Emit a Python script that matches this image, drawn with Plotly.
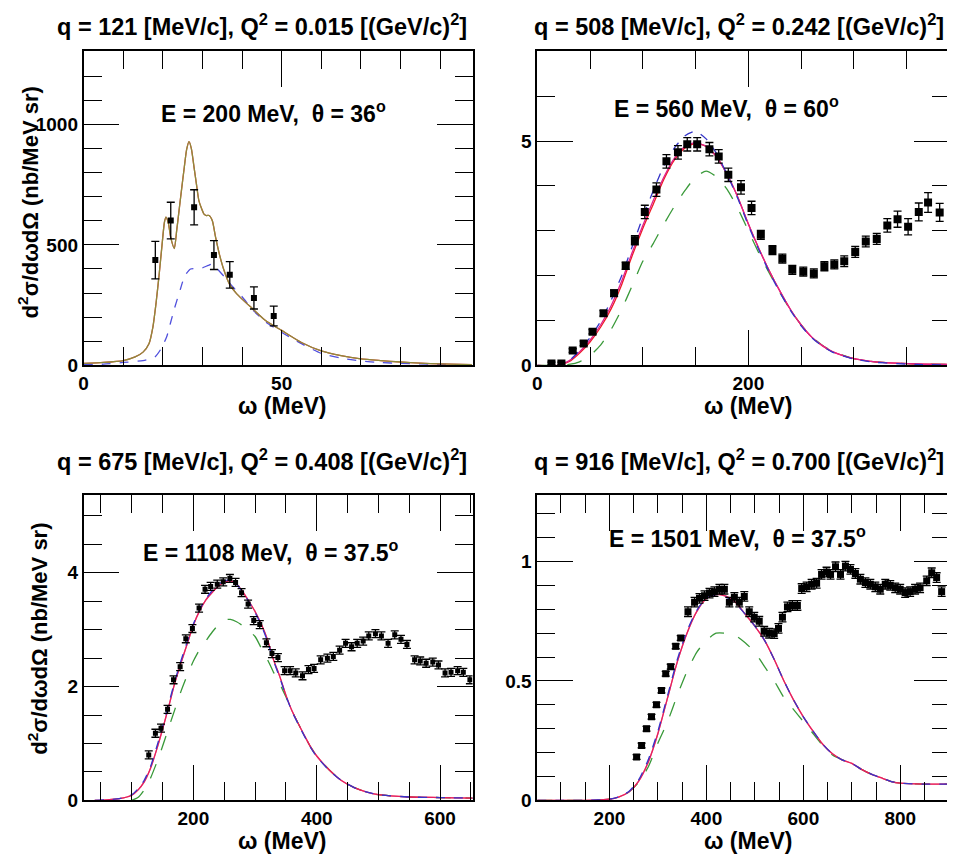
import plotly.graph_objects as go

# ---------------- DATA ----------------
p1_data_x = [18.1, 22.0, 27.9, 32.9, 36.9, 43.0, 48.0]
p1_data_y = [437, 601, 656, 458, 376, 280, 205]
p1_data_err = [78, 76, 73, 60, 55, 46, 41]
p1_curve_x = [0, 5, 10, 13, 15, 16.5, 17.5, 18.3, 19.1, 19.8, 20.4, 20.8, 21.4, 22.0, 22.9, 23.5,
              24.1, 24.8, 25.4, 26.0, 26.6, 27.2, 27.9, 28.5, 29.1, 29.8, 30.4, 31.0, 31.7, 32.5,
              33.3, 34.3, 35.4, 36.9, 38.5, 40, 43, 46, 50, 55, 60, 65, 70, 75, 80, 85, 90, 98]
p1_solid = [8, 12, 20, 35, 55, 90, 160, 260, 382, 500, 594, 615, 590, 530, 485, 560,
            643, 740, 820, 895, 929, 900, 820, 750, 684, 650, 628, 622, 622, 600,
            533, 460, 397, 335, 300, 275, 230, 185, 145, 95, 60, 40, 27, 20, 14, 9, 6, 3]
p1_dash_x = [0, 5, 10, 15, 18, 19.6, 21, 22, 23, 24.5, 25.5, 27, 28.5, 30, 31.5, 32.5, 33.5,
             35.4, 38, 40, 43, 46, 49.7, 55, 60, 65, 70, 75, 80, 90, 98]
p1_dash = [3, 5, 12, 20, 35, 70, 120, 180, 240, 320, 370, 400, 402, 405, 415, 420, 405,
           370, 320, 285, 225, 180, 140, 90, 50, 30, 18, 12, 8, 4, 2]

p2_data_x = [13.5, 22.9, 33.6, 44.0, 52.4, 62.8, 72.8, 83.8, 92.5, 101.9, 112.9, 122.4, 133.3,
             142.1, 151.5, 163.1, 171.9, 181.0, 193.0, 203.0, 211.8, 222.8, 232.2, 241.6, 252.0,
             262.0, 272.0, 281.4, 290.8, 301.2, 311.2, 321.6, 331.6, 341.3, 351.3, 361.4, 370.2, 381.2]
p2_data_y = [0.04, 0.04, 0.33, 0.49, 0.75, 1.16, 1.61, 2.22, 2.79, 3.42, 3.92, 4.55, 4.75,
             4.93, 4.93, 4.82, 4.66, 4.25, 3.97, 3.51, 2.91, 2.57, 2.38, 2.13, 2.09,
             2.05, 2.21, 2.25, 2.32, 2.53, 2.76, 2.82, 3.12, 3.26, 3.09, 3.42, 3.63, 3.41]
p2_data_err = [0.03, 0.03, 0.04, 0.05, 0.05, 0.06, 0.07, 0.08, 0.1, 0.15, 0.15, 0.15, 0.15,
               0.15, 0.15, 0.15, 0.15, 0.15, 0.15, 0.15, 0.1, 0.1, 0.1, 0.1, 0.1,
               0.1, 0.1, 0.1, 0.12, 0.12, 0.12, 0.12, 0.15, 0.18, 0.18, 0.2, 0.22, 0.2]
p2_curve_x = [0, 20, 30, 40, 50, 60, 70, 80, 90, 100, 110, 120, 130, 140, 150, 160, 170, 180,
              190, 200, 210, 220, 230, 240, 250, 260, 270, 280, 300, 320, 340, 360, 391]
p2_red = [0, 0, 0.08, 0.27, 0.52, 0.85, 1.26, 1.8, 2.45, 3.05, 3.6, 4.15, 4.58, 4.85, 4.95, 4.88,
          4.65, 4.25, 3.75, 3.15, 2.6, 2.1, 1.65, 1.24, 0.9, 0.63, 0.44, 0.3, 0.15, 0.08, 0.05, 0.03, 0.02]
p2_magenta = [0, 0, 0.1, 0.3, 0.56, 0.9, 1.33, 1.88, 2.52, 3.12, 3.68, 4.2, 4.62, 4.88, 4.97, 4.88,
              4.65, 4.25, 3.75, 3.15, 2.6, 2.1, 1.65, 1.24, 0.9, 0.63, 0.44, 0.3, 0.15, 0.08, 0.05, 0.03, 0.02]
p2_blue = [0, 0, 0.1, 0.33, 0.62, 0.98, 1.45, 2.0, 2.65, 3.3, 3.9, 4.45, 4.85, 5.12, 5.22, 5.05,
           4.72, 4.25, 3.72, 3.12, 2.57, 2.07, 1.62, 1.22, 0.88, 0.62, 0.43, 0.29, 0.14, 0.07, 0.04, 0.02, 0.01]
p2_green = [0, 0, 0.02, 0.08, 0.22, 0.45, 0.8, 1.25, 1.78, 2.32, 2.72, 3.15, 3.55, 3.9, 4.2, 4.33,
            4.2, 3.92, 3.5, 3.0, 2.5, 2.05, 1.62, 1.23, 0.9, 0.64, 0.45, 0.31, 0.15, 0.08, 0.05, 0.03, 0.02]

p3_data_x = [127.6, 138.4, 147.5, 158.1, 167.8, 178.5, 187.7, 198.4, 209.2, 218.9, 228.0, 238.7,
             248.4, 259.2, 268.4, 278.1, 288.7, 297.9, 307.6, 318.4, 327.4, 337.1, 347.9, 356.8,
             366.0, 376.9, 386.6, 395.7, 406.4, 417.3, 426.9, 437.1, 446.8, 456.5, 465.6, 475.3,
             484.4, 495.2, 504.9, 515.7, 526.5, 536.6, 546.3, 558.7, 567.8, 577.4, 588.2, 597.4,
             608.1, 617.8, 628.5, 637.7, 648.4]
p3_data_y = [0.80, 1.18, 1.27, 1.60, 2.12, 2.35, 2.84, 3.02, 3.38, 3.71, 3.76, 3.80,
             3.84, 3.90, 3.83, 3.65, 3.45, 3.16, 3.09, 2.77, 2.58, 2.51, 2.28, 2.28,
             2.24, 2.19, 2.30, 2.32, 2.47, 2.50, 2.53, 2.64, 2.76, 2.70, 2.76, 2.80,
             2.89, 2.93, 2.89, 2.76, 2.91, 2.83, 2.74, 2.47, 2.45, 2.41, 2.43, 2.38,
             2.24, 2.25, 2.28, 2.25, 2.12]
p3_data_err = [0.07] * len(p3_data_x)
p3_curve_x = [40, 60, 80, 100, 110, 120, 130, 140, 150, 160, 170, 180, 190, 200, 210, 220, 230,
              240, 250, 260, 270, 280, 290, 300, 310, 320, 330, 340, 350, 360, 370, 380, 390,
              400, 420, 440, 460, 480, 500, 550, 600, 653]
p3_red = [0, 0.01, 0.03, 0.09, 0.18, 0.32, 0.55, 0.88, 1.25, 1.65, 2.07, 2.42, 2.75, 3.08, 3.33,
          3.52, 3.65, 3.76, 3.83, 3.86, 3.8, 3.67, 3.5, 3.32, 3.1, 2.83, 2.47, 2.18, 1.85, 1.57,
          1.35, 1.14, 0.94, 0.78, 0.54, 0.35, 0.23, 0.15, 0.1, 0.06, 0.05, 0.04]
p3_blue = [0, 0.01, 0.03, 0.1, 0.2, 0.35, 0.58, 0.92, 1.3, 1.7, 2.1, 2.46, 2.79, 3.1, 3.35,
           3.54, 3.68, 3.79, 3.86, 3.87, 3.8, 3.66, 3.49, 3.3, 3.08, 2.8, 2.45, 2.16, 1.84, 1.56,
           1.34, 1.13, 0.93, 0.77, 0.53, 0.35, 0.23, 0.15, 0.1, 0.06, 0.05, 0.04]
p3_green_x = [100, 110, 120, 130, 140, 150, 160, 170, 180, 190, 200, 210, 220, 230, 240, 250,
              260, 270, 280, 290, 300, 310, 320, 330, 340, 350, 360, 370, 380, 390, 400, 420,
              440, 460, 480, 500, 550, 600, 653]
p3_green = [0, 0.05, 0.18, 0.38, 0.65, 0.95, 1.28, 1.6, 1.92, 2.2, 2.45, 2.65, 2.8, 2.95, 3.08,
            3.17, 3.18, 3.14, 3.07, 2.98, 2.88, 2.68, 2.48, 2.25, 2.05, 1.82, 1.57, 1.35, 1.14,
            0.94, 0.78, 0.54, 0.35, 0.23, 0.15, 0.1, 0.06, 0.05, 0.04]

p4_data_x = [256.0, 266.3, 276.5, 286.8, 297.0, 307.3, 316.1, 326.4, 336.7, 347.0, 362.0, 375.6,
             385.8, 396.1, 406.4, 416.6, 426.9, 437.1, 447.4, 457.7, 467.9, 478.2, 488.4, 498.7,
             509.0, 519.2, 529.5, 539.8, 548.7, 556.9, 567.2, 577.4, 587.7, 596.6, 606.8, 617.1,
             627.4, 637.6, 647.9, 656.1, 666.4, 676.7, 686.9, 697.2, 707.4, 717.7, 728.0, 738.2,
             748.5, 758.7, 769.0, 779.3, 789.5, 799.8, 810.0, 820.3, 830.5, 840.8, 854.5, 864.8,
             875.0, 885.3]
p4_data_y = [0.182, 0.23, 0.30, 0.35, 0.40, 0.46, 0.53, 0.56, 0.645, 0.68, 0.79, 0.83,
             0.846, 0.857, 0.868, 0.874, 0.884, 0.884, 0.83, 0.85, 0.83, 0.854, 0.79, 0.767,
             0.75, 0.708, 0.70, 0.698, 0.72, 0.767, 0.81, 0.816, 0.816, 0.887, 0.894, 0.905,
             0.909, 0.946, 0.956, 0.946, 0.978, 0.946, 0.981, 0.967, 0.95, 0.926, 0.912, 0.905,
             0.894, 0.884, 0.905, 0.90, 0.89, 0.884, 0.87, 0.874, 0.884, 0.89, 0.919, 0.953,
             0.933, 0.874]
p4_data_err = [0.01] * 10 + [0.02] * 52
p4_curve_x = [51, 100, 150, 200, 220, 240, 260, 280, 300, 320, 340, 360, 380, 400, 420, 440,
              460, 480, 500, 520, 540, 560, 580, 600, 620, 640, 660, 680, 700, 720, 740, 760,
              780, 800, 850, 903]
p4_red = [0, 0, 0, 0.005, 0.015, 0.035, 0.08, 0.16, 0.28, 0.43, 0.58, 0.7, 0.79, 0.845, 0.862, 0.855,
          0.83, 0.78, 0.73, 0.67, 0.59, 0.5, 0.42, 0.35, 0.29, 0.235, 0.195, 0.17, 0.155, 0.13, 0.11,
          0.095, 0.08, 0.072, 0.068, 0.068]
p4_blue = [0, 0, 0, 0.005, 0.015, 0.037, 0.085, 0.17, 0.29, 0.44, 0.59, 0.71, 0.795, 0.848, 0.862, 0.852,
           0.825, 0.78, 0.73, 0.67, 0.59, 0.5, 0.42, 0.35, 0.29, 0.235, 0.195, 0.17, 0.155, 0.13, 0.11,
           0.095, 0.08, 0.072, 0.068, 0.068]
p4_green = [0, 0, 0, 0.005, 0.015, 0.035, 0.075, 0.14, 0.24, 0.33, 0.44, 0.54, 0.62, 0.67, 0.70, 0.70,
            0.69, 0.66, 0.62, 0.56, 0.50, 0.43, 0.38, 0.33, 0.28, 0.23, 0.19, 0.17, 0.155, 0.13, 0.11,
            0.095, 0.08, 0.072, 0.068, 0.068]

titles = ["q = 121 [MeV/c], Q<sup>2</sup> = 0.015 [(GeV/c)<sup>2</sup>]",
          "q = 508 [MeV/c], Q<sup>2</sup> = 0.242 [(GeV/c)<sup>2</sup>]",
          "q = 675 [MeV/c], Q<sup>2</sup> = 0.408 [(GeV/c)<sup>2</sup>]",
          "q = 916 [MeV/c], Q<sup>2</sup> = 0.700 [(GeV/c)<sup>2</sup>]"]
kinematics = ["E = 200 MeV,  θ = 36<sup>o</sup>",
              "E = 560 MeV,  θ = 60<sup>o</sup>",
              "E = 1108 MeV,  θ = 37.5<sup>o</sup>",
              "E = 1501 MeV,  θ = 37.5<sup>o</sup>"]
x_title = "ω (MeV)"
y_title = "d<sup>2</sup>σ/dωdΩ (nb/MeV sr)"

# ---------------- FIGURE ----------------
# The page body has an 8 px margin, so the figure is 8 px smaller and
# every target pixel position is shifted by -8.
OFF = 8
W, H = 955 - OFF, 866 - OFF
FONT = "Liberation Sans, Arial, sans-serif"
RED = "#ee1c24"
MAG = "#e0208c"
BLUE = "#3535c8"
GREEN = "#3a9a3a"

def pxx(x):
    return (x - OFF) / W

def pyy(y):
    return 1 - (y - OFF) / H

fig = go.Figure()

def line(xs, ys, color, dash, ax, width=1.3, opacity=1.0):
    fig.add_trace(go.Scatter(x=xs, y=ys, mode="lines", xaxis=ax[0], yaxis=ax[1],
                             line=dict(color=color, dash=dash, width=width, shape="spline", smoothing=0.6),
                             opacity=opacity, showlegend=False, hoverinfo="skip"))

def points(xs, ys, err, ax, size):
    fig.add_trace(go.Scatter(x=xs, y=ys, mode="markers", xaxis=ax[0], yaxis=ax[1],
                             marker=dict(symbol="square", color="black", size=size),
                             error_y=dict(type="data", array=err, color="black", thickness=1.3, width=4),
                             showlegend=False))

A1, A2, A3, A4 = ("x", "y"), ("x2", "y2"), ("x3", "y3"), ("x4", "y4")

line(p1_dash_x, p1_dash, "#5050dd", "dash", A1)
line(p1_curve_x, p1_solid, RED, "solid", A1)
line(p1_curve_x, p1_solid, "#7aa040", "solid", A1, opacity=0.85)
points(p1_data_x, p1_data_y, p1_data_err, A1, 6)

line(p2_curve_x, p2_green, GREEN, "longdash", A2)
line(p2_curve_x, p2_red, RED, "solid", A2)
line(p2_curve_x, p2_magenta, MAG, "solid", A2)
line(p2_curve_x, p2_blue, BLUE, "dash", A2)
points(p2_data_x, p2_data_y, p2_data_err, A2, 8)

line(p3_green_x, p3_green, GREEN, "longdash", A3)
line(p3_curve_x, p3_red, RED, "solid", A3)
line(p3_curve_x, p3_red, MAG, "solid", A3, opacity=0.6)
line(p3_curve_x, p3_blue, BLUE, "dash", A3)
points(p3_data_x, p3_data_y, p3_data_err, A3, 5)

line(p4_curve_x, p4_green, GREEN, "longdash", A4)
line(p4_curve_x, p4_red, RED, "solid", A4)
line(p4_curve_x, p4_red, MAG, "solid", A4, opacity=0.6)
line(p4_curve_x, p4_blue, BLUE, "dash", A4)
points(p4_data_x, p4_data_y, p4_data_err, A4, 7)

# empty traces so that the minor-tick overlay axes are created
for i in range(5, 9):
    fig.add_trace(go.Scatter(x=[], y=[], xaxis=f"x{i}", yaxis=f"y{i}", showlegend=False))

tickfont = dict(family=FONT, size=19, color="black", weight="bold")

def major_axis(domain, rng, dtick, anchor):
    return dict(domain=domain, range=rng, anchor=anchor, tick0=0, dtick=dtick,
                ticks="inside", ticklen=36, tickwidth=1.3, tickcolor="black",
                showline=True, linecolor="black", linewidth=1.6, mirror="ticks",
                showgrid=False, zeroline=False, tickfont=tickfont)

def minor_axis(base, rng, dtick, anchor, side):
    return dict(overlaying=base, range=rng, anchor=anchor, side=side, tick0=0, dtick=dtick,
                ticks="inside", ticklen=18, tickwidth=1.3, tickcolor="black",
                showline=False, mirror="ticks", showticklabels=False,
                showgrid=False, zeroline=False)

XL = [pxx(79), pxx(470)]
XR = [pxx(535), pxx(950)]
YT = [pyy(370), pyy(52)]
YB = [pyy(810.7), pyy(501.7)]

R1x, R1y = [0, 98.2], [0, 1303]
R2x, R2y = [0, 391], [0, 7]
R3x, R3y = [22, 652.7], [0, 5.36]
R4x, R4y = [51, 902.6], [0, 1.277]

fig.update_layout(
    width=W, height=H, margin=dict(l=0, r=0, t=0, b=0),
    paper_bgcolor="white", plot_bgcolor="white",
    xaxis=major_axis(XL, R1x, 50, "y"),
    yaxis=major_axis(YT, R1y, 500, "x"),
    xaxis2=major_axis(XR, R2x, 200, "y2"),
    yaxis2=major_axis(YT, R2y, 5, "x2"),
    xaxis3=major_axis(XL, R3x, 200, "y3"),
    yaxis3=major_axis(YB, R3y, 2, "x3"),
    xaxis4=major_axis(XR, R4x, 200, "y4"),
    yaxis4=major_axis(YB, R4y, 0.5, "x4"),
    xaxis5=minor_axis("x", R1x, 10, "y", "bottom"),
    yaxis5=minor_axis("y", R1y, 100, "x", "left"),
    xaxis6=minor_axis("x2", R2x, 50, "y2", "bottom"),
    yaxis6=minor_axis("y2", R2y, 1, "x2", "left"),
    xaxis7=minor_axis("x3", R3x, 50, "y3", "bottom"),
    yaxis7=minor_axis("y3", R3y, 0.5, "x3", "left"),
    xaxis8=minor_axis("x4", R4x, 50, "y4", "bottom"),
    yaxis8=minor_axis("y4", R4y, 0.1, "x4", "left"),
)

ann = []
titlefont = dict(family=FONT, size=23.5, color="black", weight="bold")
kinfont = dict(family=FONT, size=23, color="black", weight="bold")
xtfont = dict(family=FONT, size=23, color="black", weight="bold")
ytfont = dict(family=FONT, size=22, color="black", weight="bold")
for t, (lx, cy) in zip(titles, [(50, 25), (530, 25), (50, 466), (530, 466)]):
    ann.append(dict(text=t, x=pxx(lx), y=pyy(cy), xref="paper", yref="paper",
                    xanchor="left", yanchor="middle", showarrow=False, font=titlefont))
for t, (lx, cy) in zip(kinematics, [(155, 113), (610, 108), (137, 558), (605, 544)]):
    ann.append(dict(text=t, x=pxx(lx), y=pyy(cy), xref="paper", yref="paper",
                    xanchor="left", yanchor="middle", showarrow=False, font=kinfont))
for cx, cy in [(278, 411), (747, 411), (278, 852), (747, 852)]:
    ann.append(dict(text=x_title, x=pxx(cx), y=pyy(cy), xref="paper", yref="paper",
                    xanchor="center", yanchor="middle", showarrow=False, font=xtfont))
for cx, cy in [(24, 205), (33, 647)]:
    ann.append(dict(text=y_title, x=pxx(cx), y=pyy(cy), xref="paper", yref="paper", textangle=-90,
                    xanchor="center", yanchor="middle", showarrow=False, font=ytfont))
fig.update_layout(annotations=ann)

fig.write_html("out.html")
